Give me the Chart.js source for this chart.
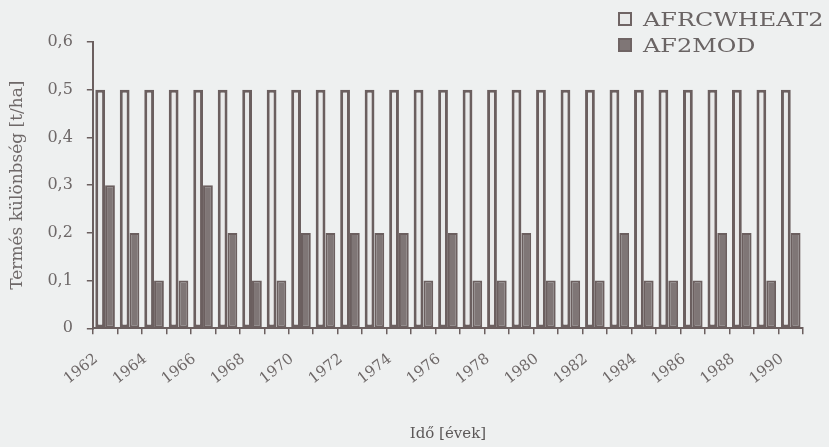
<!DOCTYPE html>
<html>
<head>
<meta charset="utf-8">
<script src="https://cdn.jsdelivr.net/npm/chart.js@4.4.0/dist/chart.umd.min.js"></script>
<style>
  html, body { margin: 0; padding: 0; background: #eef0f0; }
  #wrap { position: relative; width: 829px; height: 447px; overflow: hidden; background: #eef0f0; }
  #legend { position: absolute; left: 618px; top: 6px; font-family: 'DejaVu Serif'; font-size: 18px; color: #6a6464; }
  .item { display: flex; align-items: center; height: 26px; white-space: nowrap; }
  .box { width: 10px; height: 10px; border: 2px solid #6f6464; margin-right: 11px; }
  .txt { display: inline-block; transform: scaleX(1.33); transform-origin: left center; }
</style>
</head>
<body>
<div id="wrap">
  <canvas id="myChart"></canvas>
  <div id="legend"></div>
</div>
<script>
  const years = ["1962", "1963", "1964", "1965", "1966", "1967", "1968", "1969", "1970", "1971",
    "1972", "1973", "1974", "1975", "1976", "1977", "1978", "1979", "1980", "1981",
    "1982", "1983", "1984", "1985", "1986", "1987", "1988", "1989", "1990"];
  const afrcWheat2 = [0.5, 0.5, 0.5, 0.5, 0.5, 0.5, 0.5, 0.5, 0.5, 0.5,
    0.5, 0.5, 0.5, 0.5, 0.5, 0.5, 0.5, 0.5, 0.5, 0.5,
    0.5, 0.5, 0.5, 0.5, 0.5, 0.5, 0.5, 0.5, 0.5];
  const af2mod = [0.3, 0.2, 0.1, 0.1, 0.3, 0.2, 0.1, 0.1, 0.2, 0.2,
    0.2, 0.2, 0.2, 0.1, 0.2, 0.1, 0.1, 0.2, 0.1, 0.1,
    0.1, 0.2, 0.1, 0.1, 0.1, 0.2, 0.2, 0.1, 0.2];
  const seriesNames = ["AFRCWHEAT2", "AF2MOD"];

  const edge = "#6b5f5f";
  const textColor = "#6e6868";
  const serif = "'DejaVu Serif'";

  const chart = new Chart(document.getElementById("myChart"), {
    type: "bar",
    data: {
      labels: years,
      datasets: [
        {
          label: seriesNames[0],
          data: afrcWheat2,
          backgroundColor: "#e9eaea",
          borderColor: edge,
          borderWidth: 3,
          borderSkipped: false
        },
        {
          label: seriesNames[1],
          data: af2mod,
          backgroundColor: "#7f7676",
          borderColor: edge,
          borderWidth: 2,
          borderSkipped: false
        }
      ]
    },
    options: {
      responsive: true,
      maintainAspectRatio: false,
      animation: false,
      layout: { padding: { top: 42, right: 26, bottom: 2, left: 0 } },
      datasets: { bar: { barPercentage: 1, categoryPercentage: 0.8 } },
      plugins: {
        legend: { display: false },
        tooltip: { enabled: false }
      },
      scales: {
        x: {
          grid: { offset: true, drawOnChartArea: false, drawTicks: true, tickLength: 6, color: edge, lineWidth: 1.5 },
          border: { color: edge, width: 2 },
          ticks: {
            autoSkip: false,
            maxRotation: 38,
            minRotation: 38,
            padding: 16,
            labelOffset: -9,
            color: textColor,
            font: { family: serif, size: 15 },
            callback: function (value, index) {
              return index % 2 === 0 ? years[index] : "";
            }
          },
          title: {
            display: true,
            text: "Idő [évek]",
            color: "#5c5858",
            font: { family: serif, size: 15 },
            padding: { top: 21, bottom: 2 }
          }
        },
        y: {
          min: 0,
          max: 0.6,
          grid: { drawOnChartArea: false, drawTicks: true, tickLength: 6, color: edge, lineWidth: 1.5 },
          border: { color: edge, width: 2 },
          ticks: {
            stepSize: 0.1,
            padding: 14,
            color: textColor,
            font: { family: serif, size: 16 },
            callback: function (value) {
              return value === 0 ? "0" : value.toFixed(1).replace(".", ",");
            }
          },
          title: {
            display: true,
            text: "Termés különbség [t/ha]",
            color: textColor,
            font: { family: serif, size: 17 },
            padding: { top: 7, bottom: 6 }
          }
        }
      }
    }
  });

  // html legend, top right
  const legendBox = document.getElementById("legend");
  chart.data.datasets.forEach(function (ds) {
    const item = document.createElement("div");
    item.className = "item";
    const box = document.createElement("span");
    box.className = "box";
    box.style.background = ds.backgroundColor;
    const txt = document.createElement("span");
    txt.className = "txt";
    txt.textContent = ds.label;
    item.appendChild(box);
    item.appendChild(txt);
    legendBox.appendChild(item);
  });
</script>
</body>
</html>
